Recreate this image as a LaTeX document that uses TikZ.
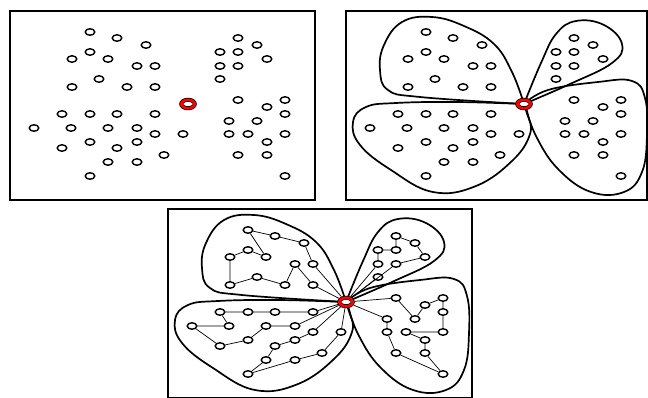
\documentclass[tikz,border=0pt]{standalone}
\usetikzlibrary{shapes.geometric}

\tikzset{
  pt/.style={ellipse, draw, line width=1.4pt, fill=white, inner sep=0pt,
    minimum width=9.5pt, minimum height=6.5pt},
  hub/.style={ellipse, draw=black, double=red, double distance=2.6pt,
    line width=0.7pt, fill=white, inner sep=0pt, outer sep=2pt,
    minimum width=13.5pt, minimum height=8.5pt},
  frame/.style={line width=1.8pt},
  petal/.style={line width=1.7pt},
  link/.style={line width=0.7pt},
}

% sample points of one panel, named #1a.., #1b.., #1c.., #1d.. and #1hub
\newcommand{\samplepoints}[1]{%
  \foreach \x/\y [count=\i] in {90/32, 117/38, 146/45, 90/52, 72/59, 108/59,
      137/66, 155/66, 99/79, 72/87, 127/87, 155/87}
    \node[pt] (#1a\i) at (\x,\y) {};
  \foreach \x/\y [count=\i] in {62/114, 90/114, 117/114, 155/114, 34/128,
      71/128, 108/128, 137/128, 155/134, 183/134, 90/142, 137/142, 62/148,
      117/148, 164/155, 108/162, 137/162, 90/176}
    \node[pt] (#1b\i) at (\x,\y) {};
  \foreach \x/\y [count=\i] in {238/38, 257/45, 220/52, 238/52, 267/59,
      220/66, 238/66, 220/79}
    \node[pt] (#1c\i) at (\x,\y) {};
  \foreach \x/\y [count=\i] in {238/100, 285/100, 267/107, 285/114, 229/121,
      257/121, 229/134, 248/134, 285/134, 267/142, 238/155, 267/155, 285/176}
    \node[pt] (#1d\i) at (\x,\y) {};
  \node[hub] (#1hub) at (188,104) {};
}

% the four groups round the hub
\newcommand{\petals}{%
  \draw[petal] plot[smooth, tension=0.7] coordinates {(188,104) (176,72)
    (158,44) (128,26) (96,17) (66,22) (48,45) (44,70) (52,90) (84,97) (188,104)};
  \draw[petal] plot[smooth, tension=0.7] coordinates {(188,104) (120,102)
    (60,103) (30,107) (17,122) (24,145) (55,170) (97,192) (140,186) (177,160)
    (194,134) (192,115) (188,104)};
  \draw[petal] plot[smooth, tension=0.7] coordinates {(188,104) (205,63)
    (220,34) (240,21) (268,25) (286,44) (276,63) (234,84) (188,104)};
  \draw[petal] plot[smooth, tension=0.7] coordinates {(188,104) (212,90)
    (262,82) (296,81) (309,98) (311,135) (306,172) (288,192) (255,192)
    (223,170) (201,138) (188,104)};
}

\begin{document}
\begin{tikzpicture}[x=1pt, y=-1pt]
\useasboundingbox (0,0) rectangle (648,397);

% Left panel - points only
\begin{scope}
  \draw[frame] (10,11) rectangle (315,200);
  \samplepoints{p1}
\end{scope}

% Right panel - points grouped round the hub
\begin{scope}[xshift=336pt]
  \draw[frame] (10,11) rectangle (311,200);
  \petals
  \samplepoints{p2}
\end{scope}

% Bottom panel - each group linked to the hub
\begin{scope}[xshift=158pt, yshift=-198pt]
  \draw[frame] (10,11) rectangle (314,200);
  \petals
  \samplepoints{p3}
  % upper left group
  \draw[link] (p3a1) -- (p3a2) -- (p3a3) -- (p3a8) -- (p3hub);
  \draw[link] (p3a1) -- (p3a6) -- (p3a4) -- (p3a5) -- (p3a10) -- (p3a9)
    -- (p3a11) -- (p3a7) -- (p3a12) -- (p3hub);
  % lower left group
  \draw[link] (p3hub) -- (p3b4) -- (p3b3) -- (p3b2) -- (p3b1) -- (p3b6)
    -- (p3b5) -- (p3b13) -- (p3b11) -- (p3b7) -- (p3b8) -- (p3hub);
  \draw[link] (p3hub) -- (p3b9) -- (p3b12) -- (p3b14) -- (p3b16) -- (p3b18)
    -- (p3b17) -- (p3b15) -- (p3b10) -- (p3hub);
  % upper right group
  \draw[link] (p3c6) -- (p3c3) -- (p3c4) -- (p3c1) -- (p3c2) -- (p3c5)
    -- (p3c7) -- (p3hub);
  \draw[link] (p3c6) -- (p3hub);
  \draw[link] (p3c8) -- (p3hub);
  % lower right group
  \draw[link] (p3hub) -- (p3d1) -- (p3d6) -- (p3d3) -- (p3d2) -- (p3d4)
    -- (p3d9) -- (p3d8) -- (p3d10) -- (p3d12) -- (p3d13) -- (p3d11)
    -- (p3d7) -- (p3d5) -- (p3hub);
\end{scope}
\end{tikzpicture}
\end{document}
